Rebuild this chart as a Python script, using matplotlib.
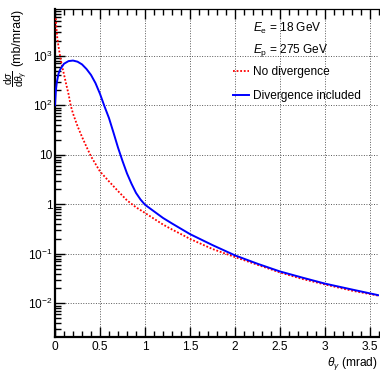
import matplotlib
matplotlib.use("Agg")
import matplotlib.pyplot as plt
from matplotlib.ticker import FixedLocator, LogLocator, NullFormatter, MultipleLocator

plt.rcParams['font.family'] = ['Liberation Sans', 'DejaVu Sans']
plt.rcParams['mathtext.fontset'] = 'custom'
plt.rcParams['mathtext.rm'] = 'Liberation Sans'
plt.rcParams['mathtext.it'] = 'Liberation Sans:italic'
plt.rcParams['mathtext.bf'] = 'Liberation Sans:bold'

# ---- data ----
theta_nodiv = [0.008, 0.015, 0.026, 0.04, 0.056, 0.074, 0.1, 0.122, 0.15, 0.174, 0.2,
               0.25, 0.3, 0.35, 0.4, 0.5, 0.6, 0.7, 0.8, 0.9, 1.0, 1.1, 1.2, 1.3,
               1.4, 1.5, 1.75, 2.0, 2.25, 2.5, 2.75, 3.0, 3.3, 3.6]
xs_nodiv = [5700, 3800, 2240, 1500, 1000, 670, 420, 277, 170, 100, 68,
            38, 23, 14.5, 9.3, 4.6, 2.9, 1.85, 1.2, 0.87, 0.67, 0.51, 0.39, 0.31,
            0.25, 0.20, 0.125, 0.086, 0.060, 0.042, 0.031, 0.024, 0.018, 0.0142]

theta_div = [0.0, 0.01, 0.02, 0.04, 0.06, 0.1, 0.15, 0.2, 0.25, 0.3, 0.35, 0.4,
             0.45, 0.5, 0.55, 0.6, 0.65, 0.7, 0.75, 0.8, 0.85, 0.9, 0.95, 1.0,
             1.1, 1.2, 1.3, 1.4, 1.5, 1.75, 2.0, 2.25, 2.5, 2.75, 3.0, 3.3, 3.6]
xs_div = [100, 200, 290, 440, 540, 690, 780, 800, 760, 670, 540, 410,
          280, 170, 95, 55, 28, 14, 7.5, 4.2, 2.6, 1.7, 1.25, 0.98,
          0.72, 0.53, 0.41, 0.32, 0.25, 0.15, 0.093, 0.063, 0.044, 0.033, 0.025, 0.019, 0.0145]

xtick_vals = [0, 0.5, 1, 1.5, 2, 2.5, 3, 3.5]
xtick_labels = ['0', '0.5', '1', '1.5', '2', '2.5', '3', '3.5']
ytick_vals = [1e-2, 1e-1, 1, 10, 1e2, 1e3]
ytick_labels = [r'$10^{-2}$', r'$10^{-1}$', '1', '10', r'$10^{2}$', r'$10^{3}$']

label_nodiv = 'No divergence'
label_div = 'Divergence included'
info_lines = [r'$E_{\mathrm{e}}$ = 18 GeV', r'$E_{\mathrm{p}}$ = 275 GeV']
ylabel_frac = r'$\dfrac{\mathrm{d}\sigma}{\mathrm{d}\theta_{\gamma}}$'
ylabel_unit = '(mb/mrad)'

W, H = 380, 370
fig = plt.figure(figsize=(W / 100, H / 100), dpi=100)
ax_l, ax_r, ax_t, ax_b = 55, 379, 9, 337.3
ax = fig.add_axes([ax_l / W, 1 - ax_b / H, (ax_r - ax_l) / W, (ax_b - ax_t) / H])

def fx(px):
    return (px - ax_l) / (ax_r - ax_l)

def fy(py):
    return (ax_b - py) / (ax_b - ax_t)

fs = 8.6
ax.plot(theta_nodiv, xs_nodiv, color='#ff0000', lw=1.3, linestyle=(0, (1, 1)),
        label=label_nodiv, zorder=3)
ax.plot(theta_div, xs_div, color='#0000ff', lw=1.4, label=label_div, zorder=4)

ax.set_yscale('log')
ax.set_xlim(0, 3.6)
ax.set_ylim(2.06e-3, 8.8e3)

ax.xaxis.set_major_locator(FixedLocator(xtick_vals))
ax.set_xticklabels(xtick_labels)
ax.xaxis.set_minor_locator(MultipleLocator(0.1))
ax.yaxis.set_major_locator(FixedLocator(ytick_vals))
ax.set_yticklabels(ytick_labels)
ax.yaxis.set_minor_locator(LogLocator(base=10, subs=range(2, 10), numticks=20))
ax.yaxis.set_minor_formatter(NullFormatter())

ax.tick_params(axis='x', which='both', direction='in', top=True, bottom=True,
               labelsize=fs, pad=3.0, color='black')
ax.tick_params(axis='x', which='major', length=7.5, width=1.0)
ax.tick_params(axis='x', which='minor', length=4, width=1.0)
ax.tick_params(axis='y', which='both', direction='in', left=True, right=False,
               labelsize=fs, pad=2, color='black')
ax.tick_params(axis='y', which='major', length=7, width=1.0)
ax.tick_params(axis='y', which='minor', length=4, width=1.0)

ax.grid(True, which='major', color='0.35', lw=0.7, linestyle=(0, (1, 1.6)))

ax.spines['right'].set_visible(False)
ax.spines['left'].set_linewidth(1.6)
ax.spines['bottom'].set_linewidth(1.6)
ax.spines['top'].set_linewidth(0.9)

# axis titles
ax.set_xlabel(r'$\theta_{\gamma}$ (mrad)', fontsize=fs, ha='right', va='top')
ax.xaxis.set_label_coords(fx(377.5), fy(354.5))
fig.text(17.5 / W, 1 - 9 / H, ylabel_unit, rotation=90, ha='center', va='top', fontsize=8.8)
fig.text(16.5 / W, 1 - 87 / H, ylabel_frac, rotation=90, ha='center', va='bottom', fontsize=7.2)

# info text
ax.text(fx(253), fy(28), info_lines[0], transform=ax.transAxes, fontsize=fs,
        ha='left', va='center')
ax.text(fx(253), fy(51), info_lines[1], transform=ax.transAxes, fontsize=fs,
        ha='left', va='center')

# legend
leg = ax.legend(loc='upper left', bbox_to_anchor=(fx(233), fy(66)),
                frameon=False, fontsize=fs, handlelength=16 / 12, handletextpad=0.33,
                labelspacing=1.0, borderpad=0, borderaxespad=0)

fig.savefig('out.png', dpi=100)
